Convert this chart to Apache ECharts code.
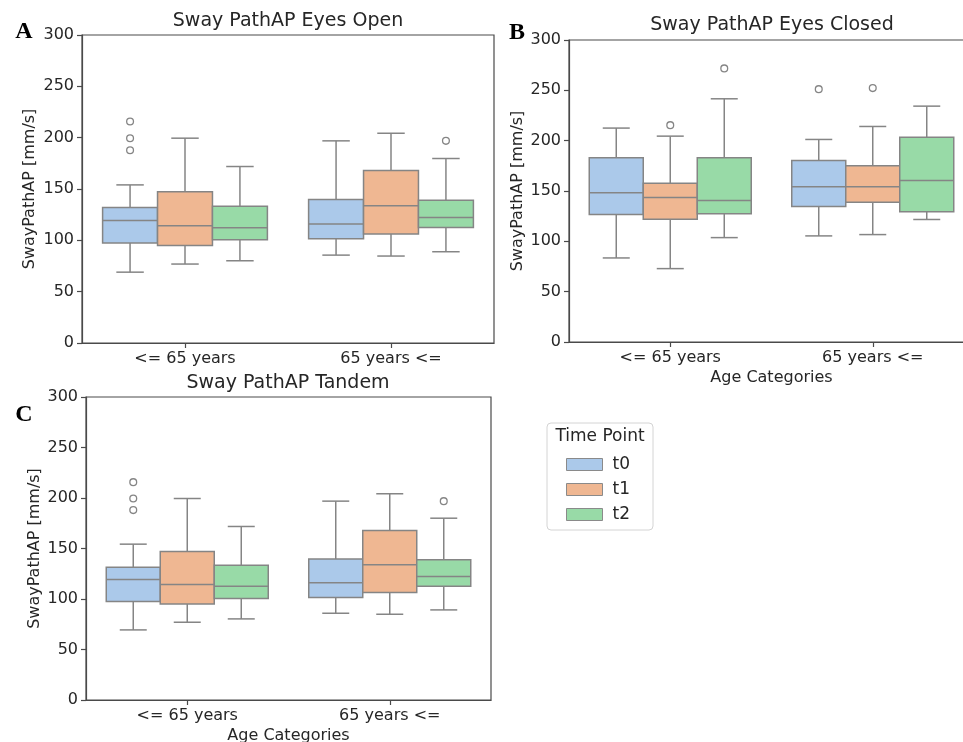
<!DOCTYPE html>
<html><head><meta charset="utf-8">
<script src="https://cdn.jsdelivr.net/npm/echarts@6/dist/echarts.min.js"></script>
<style>html,body{margin:0;padding:0;background:#fff}#c{width:963px;height:742px}</style>
</head><body><div id="c"></div>
<script>
// ---------- data ----------
const categories = ['<= 65 years', '65 years <='];
const timePoints = ['t0', 't1', 't2'];
const yTicks = [0, 50, 100, 150, 200, 250, 300];
// each entry: [low whisker, Q1, median, Q3, high whisker] for categories[0], categories[1]
const eyesOpenT0 = [[69, 97.3, 119.4, 132, 154], [85.6, 101.5, 115.8, 139.8, 196.9]];
const eyesOpenT1 = [[76.9, 95, 114.2, 147.3, 199.5], [84.7, 106.1, 133.6, 168, 204.3]];
const eyesOpenT2 = [[80.1, 100.5, 112.2, 133.3, 171.9], [88.9, 112.6, 122.3, 139.1, 179.7]];
// outliers: [category index, time point index, value]
const eyesOpenOutliers = [[0, 0, 215.7], [0, 0, 199.5], [0, 0, 187.8], [1, 2, 196.9]];

const eyesClosedT0 = [[83.5, 126.6, 148.2, 183, 212.5], [105.4, 134.6, 154.1, 180.3, 201.2]];
const eyesClosedT1 = [[72.9, 122, 143.5, 157.8, 204.5], [106.7, 138.9, 154.1, 175, 214.1]];
const eyesClosedT2 = [[103.7, 127.3, 140.5, 183, 241.6], [121.7, 129.3, 160.4, 203.5, 234.3]];
const eyesClosedOutliers = [[0, 1, 215.4], [0, 2, 271.8], [1, 0, 251.2], [1, 1, 252.2]];

const tandemT0 = [[69.4, 97.5, 119.3, 131.5, 154.3], [85.9, 101.4, 116, 139.7, 196.9]];
const tandemT1 = [[77, 95.1, 114.3, 147, 199.5], [84.9, 106.4, 133.8, 167.8, 204.2]];
const tandemT2 = [[80.3, 100.4, 112.7, 133.5, 171.8], [89.2, 112.7, 122.2, 138.8, 180]];
const tandemOutliers = [[0, 0, 215.7], [0, 0, 199.5], [0, 0, 188], [1, 2, 196.9]];

// ---------- style ----------
const FILLS = ['#abc9ea', '#efb792', '#98daa7'];
const LINE = '#858585';
const AXIS = '#4a4a4a';
const TXT = '#262626';
const FONT = 'DejaVu Sans';

const panels = [
  { title: 'Sway PathAP Eyes Open', letter: 'A', boxes: [eyesOpenT0, eyesOpenT1, eyesOpenT2], outliers: eyesOpenOutliers,
    grid: { left: 82, top: 35, width: 412, height: 308 }, xName: '', yGap: 44, titleX: 288, titleTop: 12, letterX: 24, letterY: 32 },
  { title: 'Sway PathAP Eyes Closed', letter: 'B', boxes: [eyesClosedT0, eyesClosedT1, eyesClosedT2], outliers: eyesClosedOutliers,
    grid: { left: 569, top: 40, width: 405, height: 302 }, xName: 'Age Categories', yGap: 43, titleX: 772, titleTop: 16, letterX: 517, letterY: 33 },
  { title: 'Sway PathAP Tandem', letter: 'C', boxes: [tandemT0, tandemT1, tandemT2], outliers: tandemOutliers,
    grid: { left: 86, top: 397, width: 405, height: 303 }, xName: 'Age Categories', yGap: 43, titleX: 288, titleTop: 374, letterX: 24, letterY: 415 }
];

function boxRenderer(tIdx) {
  return function (params, api) {
    const cat = api.value(0);
    const band = api.size([1, 0])[0];
    const w = band * 0.8 / 3;
    const cx = api.coord([cat, 0])[0] + (tIdx - 1) * w;
    const y = i => api.coord([cat, api.value(i)])[1];
    const yLow = y(1), yQ1 = y(2), yMed = y(3), yQ3 = y(4), yHigh = y(5);
    const ls = { stroke: LINE, lineWidth: 1.5 };
    return {
      type: 'group',
      children: [
        { type: 'line', shape: { x1: cx, y1: yLow, x2: cx, y2: yQ1 }, style: ls },
        { type: 'line', shape: { x1: cx, y1: yQ3, x2: cx, y2: yHigh }, style: ls },
        { type: 'line', shape: { x1: cx - w / 4, y1: yLow, x2: cx + w / 4, y2: yLow }, style: ls },
        { type: 'line', shape: { x1: cx - w / 4, y1: yHigh, x2: cx + w / 4, y2: yHigh }, style: ls },
        { type: 'rect', shape: { x: cx - w / 2, y: yQ3, width: w, height: yQ1 - yQ3 }, style: { fill: FILLS[tIdx], stroke: LINE, lineWidth: 1.5 } },
        { type: 'line', shape: { x1: cx - w / 2, y1: yMed, x2: cx + w / 2, y2: yMed }, style: ls }
      ]
    };
  };
}

function outlierRenderer(params, api) {
  const cat = api.value(0);
  const tIdx = api.value(1);
  const band = api.size([1, 0])[0];
  const w = band * 0.8 / 3;
  const p = api.coord([cat, api.value(2)]);
  return { type: 'circle', shape: { cx: p[0] + (tIdx - 1) * w, cy: p[1], r: 3.4 }, style: { fill: '#fff', stroke: LINE, lineWidth: 1.3 } };
}

const grid = [], xAxis = [], yAxis = [], series = [], title = [];
panels.forEach((pn, g) => {
  grid.push(Object.assign({ show: true, borderColor: AXIS, borderWidth: 1.2, backgroundColor: '#fff', containLabel: false, outerBoundsMode: 'none' }, pn.grid));
  xAxis.push({
    type: 'category', gridIndex: g, data: categories,
    name: pn.xName, nameLocation: 'middle', nameGap: 28,
    nameTextStyle: { fontSize: 16, color: TXT, fontFamily: FONT },
    axisLine: { lineStyle: { color: AXIS, width: 1.2 } },
    axisTick: { show: true, alignWithLabel: true, length: 5, lineStyle: { color: AXIS, width: 1.2 } },
    axisLabel: { fontSize: 16, color: TXT, fontFamily: FONT, margin: 8 },
    splitLine: { show: false }
  });
  yAxis.push({
    type: 'value', gridIndex: g, min: yTicks[0], max: yTicks[yTicks.length - 1], interval: yTicks[1] - yTicks[0],
    name: 'SwayPathAP [mm/s]', nameLocation: 'middle', nameGap: pn.yGap,
    nameTextStyle: { fontSize: 16, color: TXT, fontFamily: FONT },
    axisLine: { show: true, lineStyle: { color: AXIS, width: 1.2 } },
    axisTick: { show: true, length: 5, lineStyle: { color: AXIS, width: 1.2 } },
    axisLabel: { fontSize: 16, color: TXT, fontFamily: FONT, margin: 8 },
    splitLine: { show: false }
  });
  pn.boxes.forEach((arr, t) => {
    series.push({
      type: 'custom', name: timePoints[t], xAxisIndex: g, yAxisIndex: g,
      itemStyle: { color: FILLS[t] },
      renderItem: boxRenderer(t),
      encode: { x: 0, y: [1, 2, 3, 4, 5] },
      data: arr.map((v, c) => [c].concat(v)),
      z: 3
    });
  });
  series.push({
    type: 'custom', name: 'outliers', xAxisIndex: g, yAxisIndex: g,
    renderItem: outlierRenderer,
    encode: { x: 0, y: 2 },
    data: pn.outliers,
    z: 4
  });
  title.push({
    text: pn.title, left: pn.titleX, textAlign: 'center', top: pn.titleTop, padding: 0,
    textStyle: { fontSize: 19, fontWeight: 'normal', color: TXT, fontFamily: FONT }
  });
});

const graphic = [];
panels.forEach(pn => {
  graphic.push({
    type: 'text', x: pn.letterX, y: pn.letterY,
    style: { text: pn.letter, font: 'bold 24px "Liberation Serif"', fill: '#000', align: 'center', verticalAlign: 'middle' }
  });
});
graphic.push({
  type: 'rect', x: 547, y: 423, shape: { width: 106, height: 107, r: 4 },
  style: { fill: '#fff', stroke: '#d4d4d4', lineWidth: 1 }, z: -1
});
graphic.push({
  type: 'text', x: 600, y: 437,
  style: { text: 'Time Point', font: '17px "DejaVu Sans"', fill: TXT, align: 'center', verticalAlign: 'middle' }
});

const chart = echarts.init(document.getElementById('c'), null, { renderer: 'canvas' });
chart.setOption({
  animation: false,
  backgroundColor: '#fff',
  title: title,
  grid: grid,
  xAxis: xAxis,
  yAxis: yAxis,
  series: series,
  graphic: graphic,
  legend: {
    data: timePoints, orient: 'vertical', left: 566, top: 456, padding: 0,
    itemWidth: 36, itemHeight: 12, itemGap: 8, icon: 'rect', selectedMode: false,
    itemStyle: { borderColor: '#8a8a8a', borderWidth: 1 },
    textStyle: { fontSize: 17, color: TXT, fontFamily: FONT, lineHeight: 17, padding: [0, 0, 0, 5] }
  }
});
</script>
</body></html>
